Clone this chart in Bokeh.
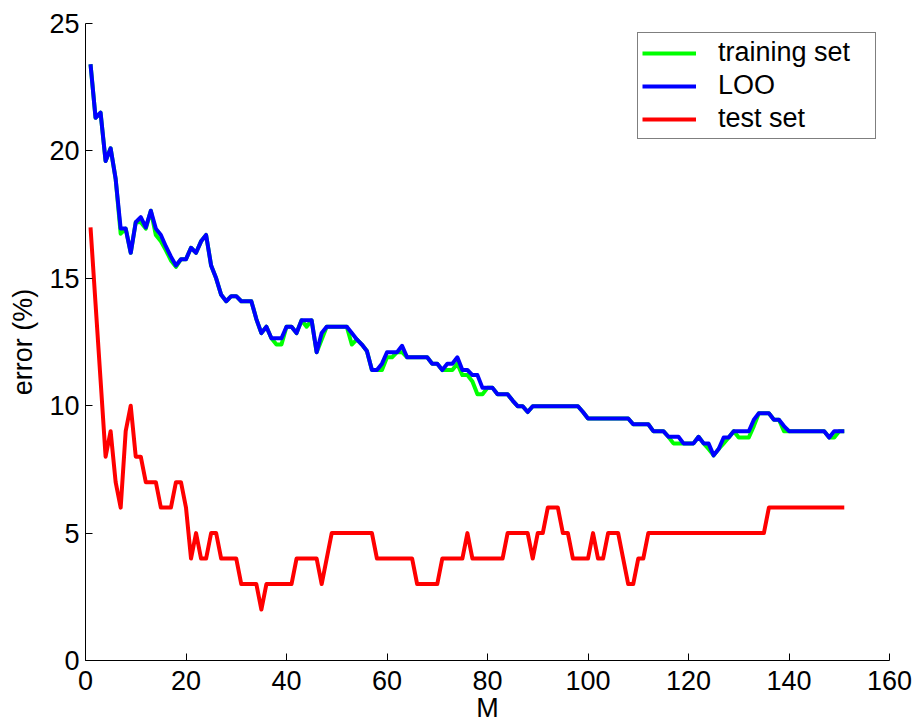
from bokeh.plotting import figure
from bokeh.models import Legend, LegendItem, FixedTicker, Range1d
from bokeh.embed import file_html
from bokeh.resources import INLINE

# ---- data ----
M = list(range(1, 152))

train = [
    23.4, 21.3, 21.5, 19.6, 20.1, 18.9, 16.75, 16.95, 16.0, 17.2,
    17.2, 16.95, 17.65, 16.7, 16.45, 16.1, 15.7, 15.45, 15.75, 15.75,
    16.2, 16.0, 16.45, 16.7, 15.5, 15.0, 14.35, 14.1, 14.3, 14.3,
    14.1, 14.1, 14.1, 13.4, 12.85, 13.1, 12.65, 12.4, 12.4, 13.1,
    13.1, 12.85, 13.35, 13.1, 13.35, 12.1, 12.6, 13.1, 13.1, 13.1,
    13.1, 13.1, 12.4, 12.6, 12.4, 12.15, 11.4, 11.4, 11.4, 11.9,
    11.9, 12.1, 12.1, 11.9, 11.9, 11.9, 11.9, 11.9, 11.65, 11.65,
    11.4, 11.4, 11.4, 11.65, 11.2, 11.2, 10.95, 10.45, 10.45, 10.7,
    10.7, 10.45, 10.45, 10.45, 10.2, 9.98, 9.98, 9.75, 9.98, 9.98,
    9.98, 9.98, 9.98, 9.98, 9.98, 9.98, 9.98, 9.98, 9.75, 9.5,
    9.5, 9.5, 9.5, 9.5, 9.5, 9.5, 9.5, 9.5, 9.27, 9.27,
    9.27, 9.27, 9.0, 9.0, 9.0, 8.78, 8.52, 8.52, 8.52, 8.52,
    8.52, 8.78, 8.52, 8.3, 8.05, 8.3, 8.52, 8.75, 9.0, 8.75,
    8.75, 8.75, 9.2, 9.7, 9.7, 9.7, 9.45, 9.45, 9.0, 9.0,
    9.0, 9.0, 9.0, 9.0, 9.0, 9.0, 9.0, 8.75, 8.75, 9.0,
    9.0,
]

loo = [
    23.4, 21.3, 21.5, 19.6, 20.1, 18.9, 16.95, 16.95, 16.0, 17.2,
    17.4, 17.0, 17.65, 16.95, 16.7, 16.25, 15.85, 15.5, 15.75, 15.75,
    16.2, 16.0, 16.45, 16.7, 15.5, 15.0, 14.35, 14.1, 14.3, 14.3,
    14.1, 14.1, 14.1, 13.4, 12.85, 13.1, 12.65, 12.65, 12.65, 13.1,
    13.1, 12.85, 13.35, 13.35, 13.35, 12.1, 12.85, 13.1, 13.1, 13.1,
    13.1, 13.1, 12.85, 12.6, 12.4, 12.15, 11.4, 11.4, 11.65, 12.1,
    12.1, 12.1, 12.35, 11.9, 11.9, 11.9, 11.9, 11.9, 11.65, 11.65,
    11.4, 11.65, 11.65, 11.9, 11.4, 11.4, 11.2, 11.2, 10.7, 10.7,
    10.7, 10.45, 10.45, 10.45, 10.2, 9.98, 9.98, 9.75, 9.98, 9.98,
    9.98, 9.98, 9.98, 9.98, 9.98, 9.98, 9.98, 9.98, 9.75, 9.5,
    9.5, 9.5, 9.5, 9.5, 9.5, 9.5, 9.5, 9.5, 9.27, 9.27,
    9.27, 9.27, 9.0, 9.0, 9.0, 8.78, 8.78, 8.78, 8.52, 8.52,
    8.52, 8.78, 8.52, 8.52, 8.05, 8.3, 8.75, 8.75, 9.0, 9.0,
    9.0, 9.0, 9.45, 9.7, 9.7, 9.7, 9.45, 9.45, 9.2, 9.0,
    9.0, 9.0, 9.0, 9.0, 9.0, 9.0, 9.0, 8.75, 9.0, 9.0,
    9.0,
]

test = [
    17, 14, 11, 8, 9, 7, 6, 9, 10, 8,
    8, 7, 7, 7, 6, 6, 6, 7, 7, 6,
    4, 5, 4, 4, 5, 5, 4, 4, 4, 4,
    3, 3, 3, 3, 2, 3, 3, 3, 3, 3,
    3, 4, 4, 4, 4, 4, 3, 4, 5, 5,
    5, 5, 5, 5, 5, 5, 5, 4, 4, 4,
    4, 4, 4, 4, 4, 3, 3, 3, 3, 3,
    4, 4, 4, 4, 4, 5, 4, 4, 4, 4,
    4, 4, 4, 5, 5, 5, 5, 5, 4, 5,
    5, 6, 6, 6, 5, 5, 4, 4, 4, 4,
    5, 4, 4, 5, 5, 5, 4, 3, 3, 4,
    4, 5, 5, 5, 5, 5, 5, 5, 5, 5,
    5, 5, 5, 5, 5, 5, 5, 5, 5, 5,
    5, 5, 5, 5, 5, 6, 6, 6, 6, 6,
    6, 6, 6, 6, 6, 6, 6, 6, 6, 6,
    6,
]

series_names = ["training set", "LOO", "test set"]
series_colors = ["#00ff00", "#0000ff", "#ff0000"]
x_ticks = [0, 20, 40, 60, 80, 100, 120, 140, 160]
y_ticks = [0, 5, 10, 15, 20, 25]

FONT = "Liberation Sans"
FS = "27px"

p = figure(
    frame_width=804, frame_height=637,
    min_border_left=85, min_border_right=28, min_border_top=23, min_border_bottom=64,
    x_range=Range1d(0, 160), y_range=Range1d(0, 25),
    output_backend="svg", toolbar_location=None,
    background_fill_color="white", border_fill_color="white",
)
p.outline_line_color = None
p.xgrid.visible = False
p.ygrid.visible = False

for ax in (p.xaxis, p.yaxis):
    ax.axis_line_color = "black"
    ax.axis_line_width = 1
    ax.major_tick_line_color = "black"
    ax.major_tick_in = 7
    ax.major_tick_out = 0
    ax.minor_tick_in = 0
    ax.minor_tick_out = 0
    ax.major_label_text_font = FONT
    ax.major_label_text_font_size = FS
    ax.major_label_text_color = "black"
    ax.axis_label_text_font = FONT
    ax.axis_label_text_font_size = FS
    ax.axis_label_text_font_style = "normal"
    ax.axis_label_text_color = "black"

p.xaxis.ticker = FixedTicker(ticks=x_ticks)
p.yaxis.ticker = FixedTicker(ticks=y_ticks)
p.xaxis.axis_label = "M"
p.yaxis.axis_label = "error (%)"
p.xaxis.major_label_standoff = 10
p.xaxis.axis_label_standoff = 0
p.yaxis.major_label_standoff = 6
p.yaxis.axis_label_standoff = 8

r_train = p.line(M, train, line_color=series_colors[0], line_width=4, line_join="round")
r_loo = p.line(M, loo, line_color=series_colors[1], line_width=4, line_join="round")
r_test = p.line(M, test, line_color=series_colors[2], line_width=4, line_join="round")

legend = Legend(
    items=[LegendItem(label=series_names[0], renderers=[r_train]),
           LegendItem(label=series_names[1], renderers=[r_loo]),
           LegendItem(label=series_names[2], renderers=[r_test])],
    location=(552, 521),
    border_line_color="black", border_line_width=1,
    background_fill_color="white", background_fill_alpha=1.0,
    padding=4, spacing=2, margin=0,
    glyph_width=54, glyph_height=20, label_standoff=22,
    label_width=153, label_height=31,
    label_text_font=FONT, label_text_font_size=FS, label_text_color="black",
)
p.add_layout(legend)

open("out.html", "w").write(file_html(p, INLINE))
